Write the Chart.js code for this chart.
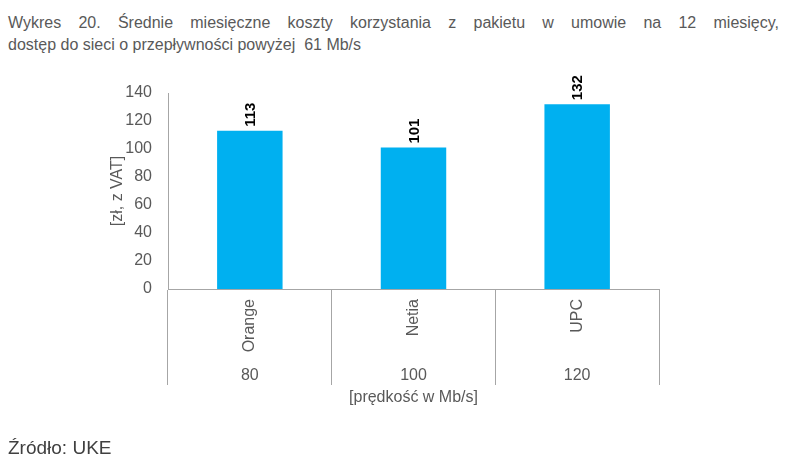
<!DOCTYPE html>
<html><head><meta charset="utf-8">
<script src="https://cdn.jsdelivr.net/npm/chart.js@4/dist/chart.umd.min.js"></script>
<style>
body{margin:0;width:796px;height:461px;position:relative;font-family:"Liberation Sans",Arial,sans-serif;background:#fff;overflow:hidden}
#title{position:absolute;left:8px;top:12px;width:771px;font-size:16px;line-height:22px;color:#595959;text-align:justify;text-align-last:left}
#src{position:absolute;left:8px;top:437px;font-size:19px;color:#404040}
#wrap{position:absolute;left:0;top:0;width:796px;height:461px}
</style></head><body>
<div id="title"><div style="text-align-last:justify">Wykres 20. Średnie miesięczne koszty korzystania z pakietu w umowie na 12 miesięcy,</div>dostęp do sieci o przepływności powyżej&nbsp; 61 Mb/s</div>
<div id="wrap"><canvas id="chart" width="796" height="461"></canvas></div>
<div id="src">Źródło: UKE</div>
<script>
const operators = ['Orange', 'Netia', 'UPC'];
const speeds = ['80', '100', '120'];
const costs = [113, 101, 132];
const FONT = '"Liberation Sans", Arial';

const extraLabels = {
  id: 'extraLabels',
  afterDraw(chart) {
    const ctx = chart.ctx, x = chart.scales.x, meta = chart.getDatasetMeta(0);
    ctx.save();
    ctx.fillStyle = '#000';
    ctx.font = 'bold 15px ' + FONT;
    meta.data.forEach((bar, i) => {
      ctx.save();
      ctx.translate(bar.x + 1, bar.y - 4);
      ctx.rotate(-Math.PI / 2);
      ctx.textAlign = 'left'; ctx.textBaseline = 'middle';
      ctx.fillText(costs[i], 0, 0);
      ctx.restore();
    });
    ctx.fillStyle = '#595959';
    ctx.font = '16px ' + FONT;
    ctx.textAlign = 'center'; ctx.textBaseline = 'middle';
    speeds.forEach((s, i) => ctx.fillText(s, x.getPixelForValue(i), 376));
    ctx.fillText('[prędkość w Mb/s]', (chart.chartArea.left + chart.chartArea.right) / 2, 398);
    ctx.save();
    ctx.translate(118, (chart.chartArea.top + chart.chartArea.bottom) / 2);
    ctx.rotate(-Math.PI / 2);
    ctx.fillText('[zł, z VAT]', 0, 0);
    ctx.restore();
    ctx.restore();
  }
};

new Chart(document.getElementById('chart'), {
  type: 'bar',
  data: { labels: operators, datasets: [{ data: costs, backgroundColor: '#00B0F0', barPercentage: 0.4, categoryPercentage: 1 }] },
  options: {
    responsive: false, animation: false, events: [],
    layout: { padding: { top: 93, right: 137, bottom: 0, left: 0 } },
    plugins: { legend: { display: false }, tooltip: { enabled: false } },
    scales: {
      y: {
        min: 0, max: 140,
        ticks: { stepSize: 20, color: '#595959', font: { size: 16, family: FONT }, padding: 8 },
        grid: { display: false },
        border: { color: '#a6a6a6' },
        afterFit: s => { s.width = 168; }
      },
      x: {
        ticks: { color: '#595959', font: { size: 16, family: FONT }, minRotation: 90, maxRotation: 90, padding: -86 },
        grid: { offset: true, drawOnChartArea: false, tickLength: 96, color: '#a6a6a6' },
        border: { color: '#a6a6a6' },
        afterFit: s => { s.height = 172; }
      }
    }
  },
  plugins: [extraLabels]
});
</script>
</body></html>
